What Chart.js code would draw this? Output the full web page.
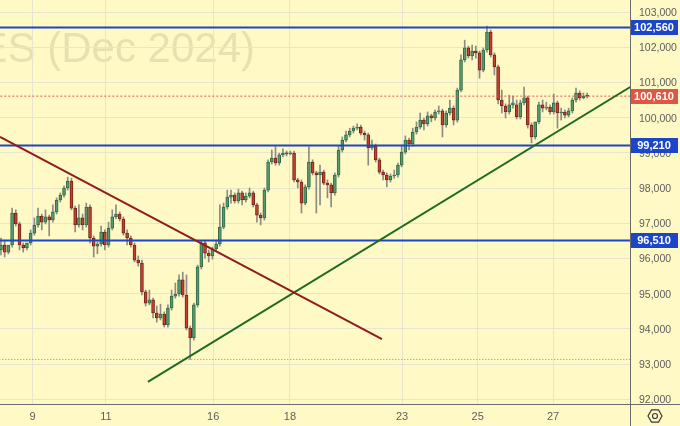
<!DOCTYPE html>
<html>
<head>
<meta charset="utf-8">
<script src="https://cdn.jsdelivr.net/npm/chart.js@4.4.1/dist/chart.umd.min.js"></script>
<style>
  html, body { margin: 0; padding: 0; background: #fff9c6; }
  #wrap { width: 680px; height: 426px; }
</style>
</head>
<body>
<div id="wrap"><canvas id="priceChart" width="680" height="426"></canvas></div>
<script>
// ---- data (one candle per bar index) ----
const opens = [
  96240, 96380, 96180, 96380, 97290, 96980, 96380, 96300, 96440, 96720,
  96950, 97200, 97030, 97180, 97090, 97320, 97660, 97800, 98000, 98200,
  97430, 96950, 97150, 96950, 97460, 96580, 96350, 96410, 96750, 96380,
  96860, 97180, 97260, 97120, 96720, 96580, 96380, 95950, 95870, 95050,
  94730, 94820, 94450, 94310, 94420, 94110, 94590, 94930, 94990, 95390,
  94960, 94020, 93740, 94680, 95760, 96440, 96150, 96070, 96270, 96410,
  96890, 97460, 97740, 97800, 97630, 97860, 97660, 97770, 97860, 97520,
  97230, 97150, 97940, 98740, 98850, 98710, 98940, 98990, 98970, 98990,
  98230, 98170, 97570, 98030, 98740, 98430, 98370, 98450, 98140, 98090,
  97860, 98370, 99080, 99360, 99510, 99620, 99700, 99730, 99560, 99510,
  99140, 99190, 98800, 98450, 98370, 98230, 98340, 98370, 98650, 99020,
  99360, 99250, 99590, 99730, 99930, 99820, 100050, 99990, 100160, 100190,
  99790, 100130, 100270, 99930, 100780, 101640, 101980, 101750, 101890, 101840,
  101350, 101920, 102430, 101780, 101440, 100500, 100330, 100160, 100360, 100360,
  100020, 100420, 100560, 99790, 99450, 99880, 100360, 100270, 100300, 100160,
  100420, 100130, 100160, 100070, 100190, 100500, 100700, 100560, 100640
];
const highs = [
  96580, 96520, 96350, 97430, 97380, 97030, 96440, 96410, 96810, 97150,
  97430, 97260, 97380, 97230, 97520, 97720, 97860, 98060, 98310, 98280,
  97490, 97520, 97260, 97570, 97520, 96640, 96470, 96920, 96810, 97030,
  97380, 97520, 97320, 97180, 96810, 96640, 96440, 96070, 95950, 95100,
  95100, 94870, 94650, 94700, 94480, 94680, 95100, 95300, 95530, 95610,
  95530, 94080, 94730, 95810, 96490, 96490, 96240, 96320, 96520, 97520,
  97570, 97940, 97940, 97860, 97970, 97910, 97860, 98000, 97910, 97570,
  97290, 98000, 98800, 99080, 99170, 98990, 99110, 99050, 99050, 99050,
  98280, 98230, 98090, 99170, 98800, 98480, 98650, 98510, 98230, 98140,
  98430, 99190, 99450, 99620, 99700, 99760, 99820, 99790, 99620, 99560,
  99360, 99250, 98850, 98510, 98430, 98400, 98510, 98710, 99220, 99480,
  99420, 99700, 99880, 100130, 99990, 100160, 100100, 100220, 100330, 100240,
  100190, 100500, 100330, 100840, 101780, 102200, 102030, 102060, 102030, 101890,
  101980, 102600, 102490, 101840, 101490, 100780, 100390, 100640, 100610, 100500,
  100500, 100870, 100610, 99850, 99790, 100440, 100500, 100440, 100360, 100670,
  100470, 100270, 100220, 100270, 100560, 100840, 100760, 100700, 100700
];
const lows = [
  96100, 96040, 96130, 96320, 96920, 96240, 96180, 96240, 96380, 96660,
  96890, 96810, 96980, 96640, 97030, 97260, 97600, 97740, 97940, 97380,
  96750, 96890, 96810, 96890, 96440, 96040, 96130, 96350, 96240, 96320,
  96810, 97120, 97060, 96660, 96380, 96320, 95900, 95780, 94960, 94650,
  94680, 94310, 94190, 94250, 94050, 94050, 94530, 94870, 94930, 94900,
  93970, 93130, 93680, 94620, 95700, 96010, 95900, 95980, 96210, 96350,
  96840, 97400, 97570, 97570, 97570, 97520, 97600, 97720, 97460, 97030,
  96950, 97090, 97890, 98680, 98650, 98650, 98880, 98910, 98940, 98170,
  98000, 97290, 97520, 97970, 98370, 97290, 97520, 98090, 97720, 97460,
  97800, 98310, 99020, 99310, 99450, 99560, 99650, 99510, 99360, 98650,
  99080, 98740, 98400, 98230, 98030, 98170, 98280, 98310, 98600, 98970,
  99080, 99190, 99530, 99680, 99650, 99760, 99880, 99930, 100100, 99450,
  99730, 100070, 99790, 99870, 100730, 101580, 101690, 101640, 101690, 101120,
  101300, 101860, 101720, 101210, 100390, 100130, 99990, 100100, 100270, 99960,
  99960, 100360, 99700, 99280, 99390, 99820, 100160, 100220, 100100, 100100,
  99700, 99930, 99990, 100020, 100130, 100440, 100500, 100530, 100560
];
const closes = [
  96380, 96180, 96380, 97290, 96980, 96380, 96300, 96440, 96720, 96950,
  97200, 97030, 97180, 97090, 97320, 97660, 97800, 98000, 98200, 97430,
  96950, 97150, 96950, 97460, 96580, 96350, 96410, 96750, 96380, 96860,
  97180, 97260, 97120, 96720, 96580, 96380, 95950, 95870, 95050, 94730,
  94820, 94450, 94310, 94420, 94110, 94590, 94930, 94990, 95390, 94960,
  94020, 93740, 94680, 95760, 96440, 96150, 96070, 96270, 96410, 96890,
  97460, 97740, 97800, 97630, 97860, 97660, 97770, 97860, 97520, 97230,
  97150, 97940, 98740, 98850, 98710, 98940, 98990, 98970, 98990, 98230,
  98170, 97570, 98030, 98740, 98430, 98370, 98450, 98140, 98090, 97860,
  98370, 99080, 99360, 99510, 99620, 99700, 99730, 99560, 99510, 99140,
  99190, 98800, 98450, 98370, 98230, 98340, 98370, 98650, 99020, 99360,
  99250, 99590, 99730, 99930, 99820, 100050, 99990, 100160, 100190, 99790,
  100130, 100270, 99930, 100780, 101640, 101980, 101750, 101890, 101840, 101350,
  101920, 102430, 101780, 101440, 100500, 100330, 100160, 100360, 100420, 100020,
  100420, 100560, 99790, 99450, 99880, 100360, 100270, 100300, 100160, 100420,
  100130, 100160, 100070, 100190, 100500, 100700, 100560, 100610, 100610
];

// session starts (in bar index) and their day labels
const dayTicks = [8.5, 28.3, 57.2, 77.9, 108.1, 128.5, 148.8];
const dayLabels = ["9", "11", "16", "18", "23", "25", "27"];
const priceTicks = [92000, 93000, 94000, 95000, 96000, 97000, 98000, 99000, 100000, 101000, 102000, 103000];

// drawn levels and trend lines
const levels = [102560, 99210, 96510];
const lastPrice = 100610;
const swingLow = 93130;
const downTrend = [{ x: -0.26, y: 99450 }, { x: 102.7, y: 93710 }];
const upTrend = [{ x: 39.6, y: 92490 }, { x: 169.6, y: 100870 }];
const watermark = "ES (Dec 2024)";

const X_MIN = -0.26;
const X_MAX = 169.55;
const Y_MIN = 91864;
const Y_MAX = 103341;

const FONT = '"Liberation Sans", Arial, sans-serif';
const COLORS = {
  bg: "#fff9c6",
  grid: "#e7e4cf",
  text: "#5e5e5e",
  axis: "#6b6b6b",
  upFill: "#5a9a72",
  upBorder: "#2f6a45",
  downFill: "#c8402c",
  downBorder: "#74231a",
  wick: "#8c8c84",
  level: "#1c46c8",
  lastPrice: "#dc5744",
  downTrend: "#8e1c1c",
  upTrend: "#1f6b1f",
};

const fmt = (v) => v.toLocaleString("en-US");
const isUp = (i) => closes[i] >= opens[i];

const bodies = opens.map((o, i) => ({ x: i, y: [o, closes[i]] }));
const wicks = lows.map((l, i) => ({ x: i, y: [l, highs[i]] }));
const flatLine = (v) => [{ x: X_MIN - 1, y: v }, { x: X_MAX + 1, y: v }];

const decor = {
  id: "decor",
  beforeDraw(chart) {
    const { ctx, width, height } = chart;
    ctx.save();
    ctx.fillStyle = COLORS.bg;
    ctx.fillRect(0, 0, width, height);
    ctx.font = "42px " + FONT;
    ctx.fillStyle = "rgba(95, 90, 60, 0.15)";
    ctx.textAlign = "right";
    ctx.textBaseline = "alphabetic";
    ctx.fillText(watermark, 255, 62);
    ctx.restore();
  },
  afterDraw(chart) {
    const { ctx, width, height, chartArea, scales } = chart;
    const y = scales.y;
    ctx.save();

    // price axis labels
    ctx.fillStyle = COLORS.text;
    ctx.font = "10.5px " + FONT;
    ctx.textAlign = "left";
    ctx.textBaseline = "middle";
    priceTicks.forEach((v) => {
      ctx.fillText(fmt(v), chartArea.right + 9, Math.round(y.getPixelForValue(v)) + 1);
    });

    // axis borders
    ctx.strokeStyle = COLORS.axis;
    ctx.lineWidth = 1;
    ctx.beginPath();
    ctx.moveTo(Math.round(chartArea.right) + 0.5, 0);
    ctx.lineTo(Math.round(chartArea.right) + 0.5, height);
    ctx.moveTo(0, Math.round(chartArea.bottom) + 0.5);
    ctx.lineTo(width, Math.round(chartArea.bottom) + 0.5);
    ctx.stroke();

    // price badges
    const badge = (value, color) => {
      const py = Math.round(y.getPixelForValue(value));
      ctx.fillStyle = color;
      ctx.fillRect(chartArea.right + 1, py - 7, 47, 15);
      ctx.fillStyle = "#ffffff";
      ctx.font = "bold 11px " + FONT;
      ctx.textAlign = "center";
      ctx.textBaseline = "middle";
      ctx.fillText(fmt(value), chartArea.right + 24, py + 1);
    };
    levels.forEach((v) => badge(v, COLORS.level));
    badge(lastPrice, COLORS.lastPrice);

    // settings icon
    const cx = 655, cy = 416, r = 7;
    ctx.strokeStyle = "#3a3a3a";
    ctx.lineWidth = 1.2;
    ctx.beginPath();
    for (let k = 0; k < 6; k++) {
      const a = Math.PI / 3 * k;
      const px = cx + r * Math.cos(a), pyy = cy + r * Math.sin(a);
      k === 0 ? ctx.moveTo(px, pyy) : ctx.lineTo(px, pyy);
    }
    ctx.closePath();
    ctx.stroke();
    ctx.beginPath();
    ctx.arc(cx, cy, 2.5, 0, Math.PI * 2);
    ctx.stroke();
    ctx.restore();
  },
};

const lineSet = (data, color, width, dash, order) => ({
  type: "line",
  data,
  borderColor: color,
  borderWidth: width,
  borderDash: dash,
  pointRadius: 0,
  fill: false,
  order,
});

new Chart(document.getElementById("priceChart").getContext("2d"), {
  type: "bar",
  data: {
    datasets: [
      {
        label: "wicks",
        data: wicks,
        backgroundColor: COLORS.wick,
        borderWidth: 0,
        barThickness: 1,
        grouped: false,
        order: 5,
      },
      {
        label: "bodies",
        data: bodies,
        backgroundColor: (c) => (isUp(c.dataIndex) ? COLORS.upFill : COLORS.downFill),
        borderColor: (c) => (isUp(c.dataIndex) ? COLORS.upBorder : COLORS.downBorder),
        borderWidth: 1,
        borderSkipped: false,
        barThickness: 3,
        minBarLength: 1,
        grouped: false,
        order: 4,
      },
      lineSet(flatLine(lastPrice), "#e2584a", 1, [2, 2], 3),
      lineSet(flatLine(swingLow), "#8a8a8a", 1, [1, 2], 3),
      ...levels.map((v) => lineSet(flatLine(v), COLORS.level, 2, [], 2)),
      lineSet(downTrend, COLORS.downTrend, 2, [], 1),
      lineSet(upTrend, COLORS.upTrend, 2, [], 1),
    ],
  },
  options: {
    responsive: false,
    devicePixelRatio: 1,
    animation: false,
    layout: { padding: 0, autoPadding: false },
    plugins: { legend: { display: false }, tooltip: { enabled: false } },
    scales: {
      x: {
        type: "linear",
        min: X_MIN,
        max: X_MAX,
        offset: false,
        afterBuildTicks: (s) => { s.ticks = dayTicks.map((v) => ({ value: v })); },
        afterFit: (s) => { s.height = 22; },
        grid: { color: COLORS.grid, drawTicks: false, offset: false },
        border: { display: false },
        ticks: {
          padding: 6,
          color: COLORS.text,
          font: { size: 11, family: FONT },
          maxRotation: 0,
          autoSkip: false,
          callback: (v) => dayLabels[dayTicks.indexOf(v)],
        },
      },
      y: {
        position: "right",
        min: Y_MIN,
        max: Y_MAX,
        afterBuildTicks: (s) => { s.ticks = priceTicks.map((v) => ({ value: v })); },
        afterFit: (s) => { s.width = 50; },
        grid: { color: COLORS.grid, drawTicks: false },
        border: { display: false },
        ticks: { display: false },
      },
    },
  },
  plugins: [decor],
});
</script>
</body>
</html>
